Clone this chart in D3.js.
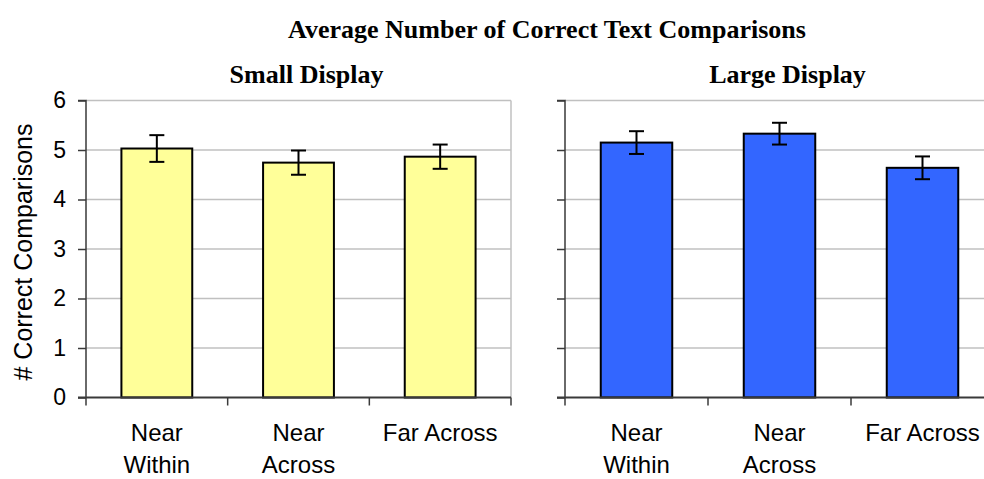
<!DOCTYPE html>
<html>

<head>
    <meta http-equiv="Content-Type" content="text/html;" charset="utf-8">
    <script type="text/javascript" src="https://cdn.jsdelivr.net/npm/d3@7"></script>
    <style>
        body { margin: 0; background: #fff; }
    </style>
</head>

<body>
    <div class="chart-div"></div>
    <script type="text/javascript">

        var width = 984;
        var height = 479;

        //-------------------------------------------- DATA

        var categories = [["Near", "Within"], ["Near", "Across"], ["Far Across"]]
        var smallMeans = [5.03, 4.745, 4.865]
        var smallErr = [0.27, 0.245, 0.245]
        var largeMeans = [5.15, 5.33, 4.64]
        var largeErr = [0.23, 0.22, 0.23]
        var yTicks = [0, 1, 2, 3, 4, 5, 6]

        var titleText = "Average Number of Correct Text Comparisons"
        var yTitle = "# Correct Comparisons"

        var sans = "Liberation Sans, Arial, sans-serif"
        var serif = "Liberation Serif, Times New Roman, serif"

        //-------------------------------------------- CONTAINERS

        var svg = d3.select("div.chart-div")
            .append("svg")
            .attr("width", width)
            .attr("height", height);

        var y = d3.scaleLinear()
            .domain([0, 6])
            .range([397.5, 100.5]);

        svg.append("text")
            .attr("x", 547)
            .attr("y", 38)
            .attr("text-anchor", "middle")
            .attr("font-family", serif)
            .attr("font-weight", "bold")
            .attr("font-size", 26)
            .text(titleText);

        svg.append("text")
            .attr("transform", "translate(32,252) rotate(-90)")
            .attr("text-anchor", "middle")
            .attr("font-family", sans)
            .attr("font-size", 25)
            .text(yTitle);

        //-------------------------------------------- PANELS

        function panel(left, right, name, means, errs, fill, showLabels) {
            var g = svg.append("g");
            var x = d3.scaleBand()
                .domain(d3.range(means.length))
                .range([left, right])
                .paddingInner(0.5)
                .paddingOuter(0.25);

            // gridlines
            g.selectAll("line.grid")
                .data(yTicks.filter(function (d) { return d > 0; }))
                .enter().append("line")
                .attr("class", "grid")
                .attr("x1", left)
                .attr("x2", right)
                .attr("y1", function (d) { return y(d); })
                .attr("y2", function (d) { return y(d); })
                .attr("stroke", "#c0c0c0")
                .attr("stroke-width", 1.5);

            // right border
            g.append("line")
                .attr("x1", right)
                .attr("x2", right)
                .attr("y1", y(6))
                .attr("y2", y(0))
                .attr("stroke", "#c0c0c0")
                .attr("stroke-width", 1.5);

            // y axis
            var yAxis = d3.axisLeft(y)
                .tickValues(yTicks)
                .tickSize(8)
                .tickFormat(showLabels ? d3.format("d") : "");
            var ya = g.append("g")
                .attr("transform", "translate(" + left + ",0)")
                .call(yAxis);
            ya.select(".domain").attr("stroke", "#3a3a3a").attr("stroke-width", 1.5)
                .attr("d", "M" + (-8) + "," + y(6) + "H0V" + y(0));
            ya.selectAll(".tick line").attr("stroke", "#3a3a3a").attr("stroke-width", 1.5);
            ya.selectAll(".tick text")
                .attr("x", -20)
                .attr("font-family", sans)
                .attr("font-size", 23)
                .attr("fill", "#000");

            // bars
            g.selectAll("rect.bar")
                .data(means)
                .enter().append("rect")
                .attr("class", "bar")
                .attr("x", function (d, i) { return x(i); })
                .attr("width", x.bandwidth())
                .attr("y", function (d) { return y(d); })
                .attr("height", function (d) { return y(0) - y(d); })
                .attr("fill", fill)
                .attr("stroke", "#000")
                .attr("stroke-width", 2);

            // error bars
            var eb = g.selectAll("g.err")
                .data(means)
                .enter().append("g")
                .attr("class", "err")
                .attr("transform", function (d, i) { return "translate(" + (x(i) + x.bandwidth() / 2) + ",0)"; });
            eb.append("line")
                .attr("y1", function (d, i) { return y(d + errs[i]); })
                .attr("y2", function (d, i) { return y(d - errs[i]); })
                .attr("stroke", "#000").attr("stroke-width", 2);
            eb.append("line")
                .attr("x1", -7.5).attr("x2", 7.5)
                .attr("y1", function (d, i) { return y(d + errs[i]); })
                .attr("y2", function (d, i) { return y(d + errs[i]); })
                .attr("stroke", "#000").attr("stroke-width", 2);
            eb.append("line")
                .attr("x1", -7.5).attr("x2", 7.5)
                .attr("y1", function (d, i) { return y(d - errs[i]); })
                .attr("y2", function (d, i) { return y(d - errs[i]); })
                .attr("stroke", "#000").attr("stroke-width", 2);

            // x axis
            g.append("line")
                .attr("x1", left - 8)
                .attr("x2", right)
                .attr("y1", y(0))
                .attr("y2", y(0))
                .attr("stroke", "#3a3a3a")
                .attr("stroke-width", 2);
            g.selectAll("line.xtick")
                .data(d3.range(means.length + 1))
                .enter().append("line")
                .attr("class", "xtick")
                .attr("x1", function (d) { return left + d * x.step(); })
                .attr("x2", function (d) { return left + d * x.step(); })
                .attr("y1", y(0))
                .attr("y2", y(0) + 8)
                .attr("stroke", "#3a3a3a")
                .attr("stroke-width", 1.5);

            var lab = g.selectAll("text.xlab")
                .data(categories)
                .enter().append("text")
                .attr("class", "xlab")
                .attr("text-anchor", "middle")
                .attr("font-family", sans)
                .attr("font-size", 24)
                .attr("x", function (d, i) { return x(i) + x.bandwidth() / 2; })
                .attr("y", 441);
            lab.selectAll("tspan")
                .data(function (d) { return d; })
                .enter().append("tspan")
                .attr("x", function () { return d3.select(this.parentNode).attr("x"); })
                .attr("dy", function (d, i) { return i === 0 ? 0 : 32; })
                .text(function (d) { return d; });

            // panel title
            svg.append("text")
                .attr("x", (left + right) / 2 + 8)
                .attr("y", 83)
                .attr("text-anchor", "middle")
                .attr("font-family", serif)
                .attr("font-weight", "bold")
                .attr("font-size", 26)
                .text(name);
        }

        panel(86, 511, "Small Display", smallMeans, smallErr, "#ffff99", true);
        panel(565, 994, "Large Display", largeMeans, largeErr, "#3366ff", false);

    </script>

</body>

</html>
